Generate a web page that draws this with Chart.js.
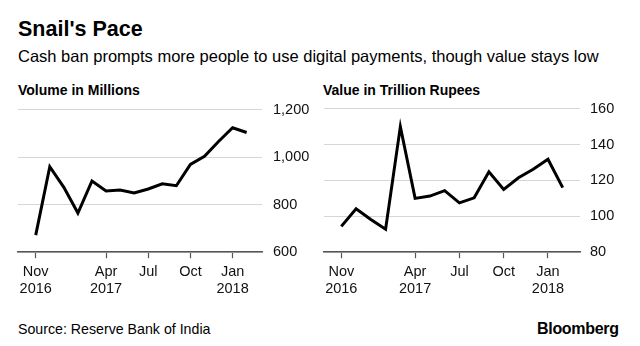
<!DOCTYPE html>
<html>
<head>
<meta charset="utf-8">
<script src="https://cdn.jsdelivr.net/npm/chart.js@4"></script>
<style>
  body { margin: 0; background: #fff; font-family: "Liberation Sans", Arial, sans-serif; color: #000; }
  #wrap { position: relative; width: 640px; height: 346px; overflow: hidden; }
  .txt { position: absolute; white-space: nowrap; line-height: normal; }
  #title { left: 18px; top: 17px; font-size: 21.5px; font-weight: bold; }
  #subtitle { left: 18px; top: 47px; font-size: 16.5px; }
  .panelTitle { top: 82px; font-size: 14px; font-weight: bold; }
  #source { left: 18px; top: 321px; font-size: 14.2px; }
  #logo { left: 537px; top: 320px; font-size: 16px; font-weight: bold; letter-spacing: -0.3px; }
  .box { position: absolute; top: 90px; width: 320px; height: 213px; }
</style>
</head>
<body>
<div id="wrap">
  <div class="txt" id="title">Snail's Pace</div>
  <div class="txt" id="subtitle">Cash ban prompts more people to use digital payments, though value stays low</div>
  <div class="txt panelTitle" style="left:18px">Volume in Millions</div>
  <div class="txt panelTitle" style="left:323px">Value in Trillion Rupees</div>
  <div class="box" style="left:0"><canvas id="volChart"></canvas></div>
  <div class="box" style="left:320px"><canvas id="valChart"></canvas></div>
  <div class="txt" id="source">Source: Reserve Bank of India</div>
  <div class="txt" id="logo">Bloomberg</div>
</div>
<script>
// months Nov 2016 .. Feb 2018
const months = ['Nov 2016', 'Dec 2016', 'Jan 2017', 'Feb 2017', 'Mar 2017', 'Apr 2017', 'May 2017', 'Jun 2017',
                'Jul 2017', 'Aug 2017', 'Sep 2017', 'Oct 2017', 'Nov 2017', 'Dec 2017', 'Jan 2018', 'Feb 2018'];
const volume = [672, 960, 873, 765, 900, 858, 862, 849, 866, 888, 880, 970, 1004, 1066, 1124, 1104];
const value = [94.4, 104.2, 98.2, 92.8, 150, 110, 111.3, 114.3, 107.5, 110.3, 124.8, 115, 121.5, 126.2, 131.8, 116];

// which month index gets a label
const tickIndex = [0, 5, 8, 11, 14];
const tickLabels = [['Nov', '2016'], ['Apr', '2017'], ['Jul', ''], ['Oct', ''], ['Jan', '2018']];

const volTicks = [600, 800, 1000, 1200];
const valTicks = [80, 100, 120, 140, 160];

const tickFont = { family: '"Liberation Sans", Arial, sans-serif', size: 14.5, lineHeight: 1.2 };

function makeChart(id, data, yTicks, xMin, xMax, padLeft, axisWidth, labelPad, fmt) {
    const ctx = document.getElementById(id).getContext('2d');
    return new Chart(ctx, {
        type: 'line',
        data: {
            datasets: [{
                data: data.map((v, i) => ({ x: i, y: v })),
                borderColor: '#000',
                borderWidth: 3,
                pointRadius: 0,
                tension: 0,
                borderJoinStyle: 'miter'
            }]
        },
        options: {
            responsive: false,
            animation: false,
            maintainAspectRatio: false,
            layout: { padding: { left: padLeft, right: 0, top: 0, bottom: 0 } },
            plugins: { legend: { display: false }, tooltip: { enabled: false } },
            scales: {
                x: {
                    type: 'linear',
                    min: xMin,
                    max: xMax,
                    afterBuildTicks: (scale) => { scale.ticks = tickIndex.map(v => ({ value: v })); },
                    grid: { drawOnChartArea: false, drawTicks: true, tickLength: 6, tickColor: '#555', tickWidth: 1.2 },
                    border: { display: true, color: '#555', width: 1.5 },
                    ticks: {
                        color: '#111',
                        font: tickFont,
                        padding: 5,
                        maxRotation: 0,
                        autoSkip: false,
                        callback: (v) => tickLabels[tickIndex.indexOf(v)]
                    }
                },
                y: {
                    position: 'right',
                    min: yTicks[0],
                    max: yTicks[yTicks.length - 1],
                    afterBuildTicks: (scale) => { scale.ticks = yTicks.map(v => ({ value: v })); },
                    afterFit: (scale) => { scale.width = axisWidth; },
                    grid: { color: '#d6d6d6', lineWidth: 1, drawTicks: false },
                    border: { display: false },
                    ticks: { color: '#111', font: tickFont, padding: labelPad, callback: fmt }
                }
            }
        }
    });
}

document.querySelectorAll('canvas').forEach(c => { c.width = 320; c.height = 213; c.style.width = '320px'; c.style.height = '213px'; });

makeChart('volChart', volume, volTicks, -1.26, 16.09, 18, 58, 11, (v) => v.toLocaleString('en-US'));
makeChart('valChart', value, valTicks, -1.17, 16.17, 2.7, 60, 10, (v) => String(v));
</script>
</body>
</html>
